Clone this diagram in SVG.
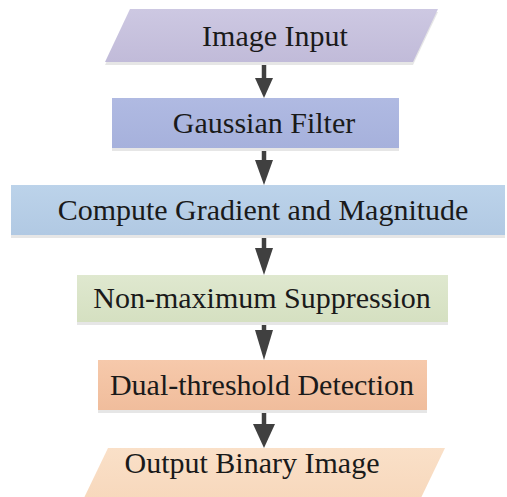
<svg xmlns="http://www.w3.org/2000/svg" width="507" height="497" viewBox="0 0 507 497">
<defs>
<style>
text{font-family:"Liberation Serif","Times New Roman",serif;font-size:30px;fill:#1a1a1a;text-anchor:middle}
.sh{fill:#e6e6e6}
.ar{stroke:#404040;stroke-width:4.5;fill:none}
.hd{fill:#404040}
</style>
<linearGradient id="g1" x1="0" y1="0" x2="0" y2="1"><stop offset="0" stop-color="#cdc8e2"/><stop offset="1" stop-color="#c1bbd9"/></linearGradient>
<linearGradient id="g2" x1="0" y1="0" x2="0" y2="1"><stop offset="0" stop-color="#b0bae2"/><stop offset="1" stop-color="#a6b1dc"/></linearGradient>
<linearGradient id="g3" x1="0" y1="0" x2="0" y2="1"><stop offset="0" stop-color="#bcd3ea"/><stop offset="1" stop-color="#b1c9e3"/></linearGradient>
<linearGradient id="g4" x1="0" y1="0" x2="0" y2="1"><stop offset="0" stop-color="#dfe8cf"/><stop offset="1" stop-color="#d5e0c1"/></linearGradient>
<linearGradient id="g5" x1="0" y1="0" x2="0" y2="1"><stop offset="0" stop-color="#f6c9ab"/><stop offset="1" stop-color="#f0bd9c"/></linearGradient>
<linearGradient id="g6" x1="0" y1="0" x2="0" y2="1"><stop offset="0" stop-color="#fae0c8"/><stop offset="1" stop-color="#f7d8bc"/></linearGradient>
</defs>
<rect width="507" height="497" fill="#ffffff"/>
<g id="connectors">
<line class="ar" x1="264" y1="62" x2="264" y2="80"/><polygon class="hd" points="255,78 273,78 264,98"/>
<line class="ar" x1="264" y1="148" x2="264" y2="164"/><polygon class="hd" points="255,160 273,160 264,185"/>
<line class="ar" x1="264" y1="235" x2="264" y2="252"/><polygon class="hd" points="255,248 273,248 264,275"/>
<line class="ar" x1="264" y1="322" x2="264" y2="335"/><polygon class="hd" points="255,330 273,330 264,360"/>
<line class="ar" x1="264" y1="410" x2="264" y2="428"/><polygon class="hd" points="253,424 275,424 264,448"/>
</g>
<g id="n1">
<polygon class="sh" points="130,12 438,12 413,65 105,65"/>
<polygon fill="url(#g1)" points="130,9 438,9 413,62 105,62"/>
<text x="275" y="46">Image Input</text>
</g>
<g id="n2">
<rect class="sh" x="112" y="101" width="287" height="50"/>
<rect fill="url(#g2)" x="112" y="98" width="287" height="50"/>
<text x="264" y="133">Gaussian Filter</text>
</g>
<g id="n3">
<rect class="sh" x="11" y="188" width="494" height="50"/>
<rect fill="url(#g3)" x="11" y="185" width="494" height="50"/>
<text x="263" y="220">Compute Gradient and Magnitude</text>
</g>
<g id="n4">
<rect class="sh" x="77" y="278" width="371" height="47"/>
<rect fill="url(#g4)" x="77" y="275" width="371" height="47"/>
<text x="262" y="308">Non-maximum Suppression</text>
</g>
<g id="n5">
<rect class="sh" x="98" y="363" width="329" height="50"/>
<rect fill="url(#g5)" x="98" y="360" width="329" height="50"/>
<text x="262" y="395">Dual-threshold Detection</text>
</g>
<g id="n6">
<polygon fill="url(#g6)" points="108,448 445,448 420,500 83,500"/>
<text x="252" y="473">Output Binary Image</text>
</g>
</svg>
